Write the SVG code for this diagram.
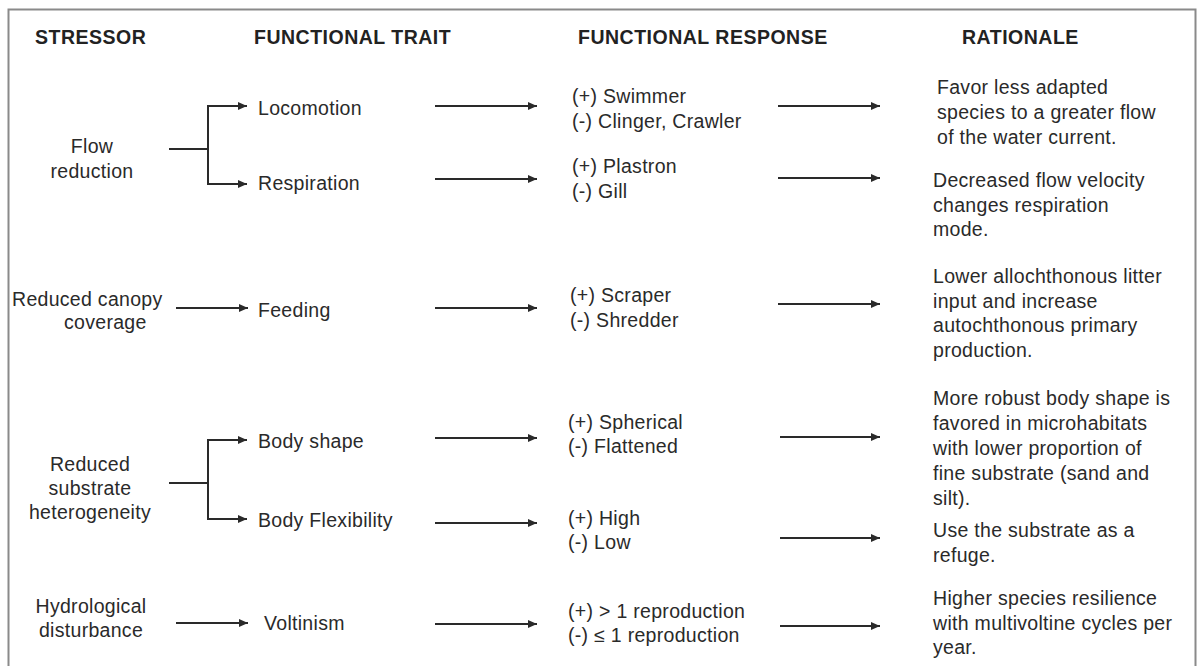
<svg xmlns="http://www.w3.org/2000/svg" width="1200" height="666" viewBox="0 0 1200 666">
<style>
text{font-family:"Liberation Sans",Arial,sans-serif;font-size:19.5px;fill:#2a2a2a;letter-spacing:0.3px}
.h{font-weight:bold;letter-spacing:0.5px;fill:#222}
.c{text-anchor:middle}
.ln{stroke:#2a2a2a;stroke-width:2;fill:none}
.ar{stroke:#2a2a2a;stroke-width:2;fill:none;marker-end:url(#ah)}
</style>
<defs>
<marker id="ah" markerUnits="userSpaceOnUse" markerWidth="10" markerHeight="8" refX="9" refY="4" orient="auto">
<path d="M0,0 L9,4 L0,8 z" fill="#2a2a2a"/>
</marker>
</defs>
<rect x="0" y="0" width="1200" height="666" fill="#fff"/>
<path d="M8.5,667 V9.5 H1195.5 V667" fill="none" stroke="#8a8a8a" stroke-width="2"/>

<g id="headers">
<text class="h" x="35" y="44">STRESSOR</text>
<text class="h" x="254" y="44">FUNCTIONAL TRAIT</text>
<text class="h" x="578" y="44">FUNCTIONAL RESPONSE</text>
<text class="h" x="962" y="44">RATIONALE</text>
</g>

<g id="stressor-flow"><text class="c" x="92" y="153">Flow</text><text class="c" x="92" y="178">reduction</text></g>
<g id="stressor-canopy"><text x="12" y="306">Reduced canopy</text><text x="64" y="329">coverage</text></g>
<g id="stressor-substrate"><text class="c" x="90" y="471">Reduced</text><text class="c" x="90" y="495">substrate</text><text class="c" x="90" y="519">heterogeneity</text></g>
<g id="stressor-hydro"><text class="c" x="91" y="613">Hydrological</text><text class="c" x="91" y="637">disturbance</text></g>

<g id="trait-locomotion"><text x="258" y="115">Locomotion</text></g>
<g id="trait-respiration"><text x="258" y="190">Respiration</text></g>
<g id="trait-feeding"><text x="258" y="317">Feeding</text></g>
<g id="trait-bodyshape"><text x="258" y="448">Body shape</text></g>
<g id="trait-flexibility"><text x="258" y="527">Body Flexibility</text></g>
<g id="trait-voltinism"><text x="264" y="630">Voltinism</text></g>

<g id="resp-locomotion"><text x="572" y="103">(+) Swimmer</text><text x="572" y="128">(-) Clinger, Crawler</text></g>
<g id="resp-respiration"><text x="572" y="173">(+) Plastron</text><text x="572" y="198">(-) Gill</text></g>
<g id="resp-feeding"><text x="570" y="302">(+) Scraper</text><text x="570" y="327">(-) Shredder</text></g>
<g id="resp-bodyshape"><text x="568" y="429">(+) Spherical</text><text x="568" y="453">(-) Flattened</text></g>
<g id="resp-flexibility"><text x="568" y="525">(+) High</text><text x="568" y="549">(-) Low</text></g>
<g id="resp-voltinism"><text x="568" y="618">(+) &gt; 1 reproduction</text><text x="568" y="642">(-) ≤ 1 reproduction</text></g>

<g id="rat-locomotion"><text x="937" y="94">Favor less adapted</text><text x="937" y="119">species to a greater flow</text><text x="937" y="144">of the water current.</text></g>
<g id="rat-respiration"><text x="933" y="187">Decreased flow velocity</text><text x="933" y="212">changes respiration</text><text x="933" y="236">mode.</text></g>
<g id="rat-feeding"><text x="933" y="283">Lower allochthonous litter</text><text x="933" y="308">input and increase</text><text x="933" y="332">autochthonous primary</text><text x="933" y="357">production.</text></g>
<g id="rat-bodyshape"><text x="933" y="405">More robust body shape is</text><text x="933" y="430">favored in microhabitats</text><text x="933" y="455">with lower proportion of</text><text x="933" y="480">fine substrate (sand and</text><text x="933" y="505">silt).</text></g>
<g id="rat-flexibility"><text x="933" y="537">Use the substrate as a</text><text x="933" y="562">refuge.</text></g>
<g id="rat-voltinism"><text x="933" y="605">Higher species resilience</text><text x="933" y="630">with multivoltine cycles  per</text><text x="933" y="654">year.</text></g>

<g id="connectors">
<path class="ln" d="M169,149 H208 M208,106 V184"/>
<path class="ar" d="M207,106 H247"/>
<path class="ar" d="M207,184 H247"/>
<path class="ar" d="M176,308 H248"/>
<path class="ln" d="M169,483 H208 M208,440 V519"/>
<path class="ar" d="M207,440 H247"/>
<path class="ar" d="M207,519 H247"/>
<path class="ar" d="M176,623 H248"/>

<path class="ar" d="M435,106 H537"/>
<path class="ar" d="M435,179 H537"/>
<path class="ar" d="M435,308 H537"/>
<path class="ar" d="M435,438 H537"/>
<path class="ar" d="M435,523 H537"/>
<path class="ar" d="M435,624 H537"/>

<path class="ar" d="M778,106 H880"/>
<path class="ar" d="M778,178 H880"/>
<path class="ar" d="M778,304 H880"/>
<path class="ar" d="M780,437 H880"/>
<path class="ar" d="M780,538 H880"/>
<path class="ar" d="M780,626 H880"/>
</g>
</svg>
